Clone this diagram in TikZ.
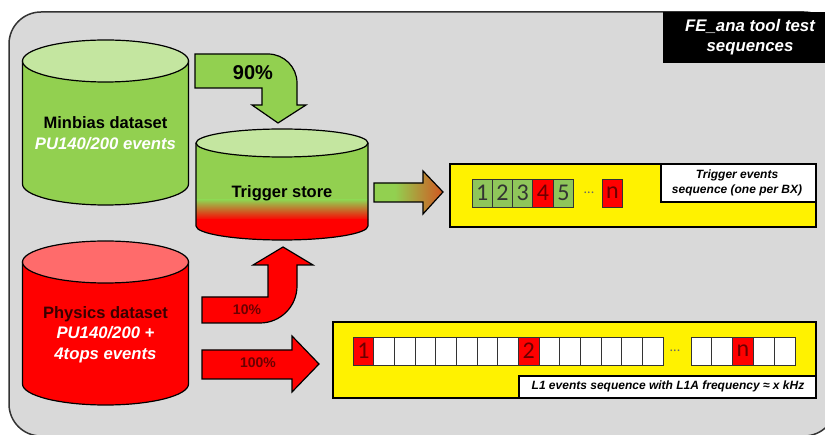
\documentclass[tikz,border=0pt]{standalone}
\usepackage{fontspec}
\setmainfont{Liberation Sans}
\newfontfamily\cellfont{Carlito}
\definecolor{bggray}{HTML}{D9D9D9}
\definecolor{lgreen}{HTML}{92D050}
\definecolor{tgreen}{HTML}{C4E6A0}
\definecolor{cred}{HTML}{FF0000}
\definecolor{tred}{HTML}{FF6B6B}
\definecolor{cellgreen}{HTML}{8FC65A}
\definecolor{darkred}{HTML}{6B0000}
\definecolor{physdark}{HTML}{3A0000}
\pgfdeclarehorizontalshading{grarrow}{100bp}{color(0bp)=(lgreen); color(40bp)=(lgreen); color(100bp)=(cred)}
\tikzset{
  outl/.style={draw=black, line width=1.2},
  lbl/.style={font=\bfseries\fontsize{16.5}{19}\selectfont, anchor=base},
  wlbl/.style={font=\bfseries\itshape\fontsize{16.7}{19}\selectfont, text=white, anchor=base},
  pct/.style={font=\bfseries\fontsize{14}{16}\selectfont, anchor=base, text=darkred},
  smalllbl/.style={font=\bfseries\itshape\fontsize{12}{14}\selectfont, anchor=base},
  titlelbl/.style={font=\bfseries\itshape\fontsize{16.8}{19}\selectfont, text=white, anchor=base},
  cellbox/.style={draw=black!80, line width=0.9, minimum width=20.3, minimum height=28, inner sep=0, font=\cellfont\fontsize{24}{24}\selectfont, text=black!80},
  gcell/.style={cellbox, fill=cellgreen},
  rcell/.style={cellbox, fill=cred, text=darkred},
  wcell/.style={cellbox, fill=white},
  dotlbl/.style={font=\cellfont\fontsize{14}{14}\selectfont, text=black!60},
}
\begin{document}
\begin{tikzpicture}[x=1pt,y=1pt]
\useasboundingbox (0,0) rectangle (825,434);
\clip (0,0) rectangle (825,434);
\fill[white] (0,0) rectangle (825,434);
% frame
\draw[line width=1.5, draw=black!80, fill=bggray, rounded corners=32] (9,422) rectangle (836,-2);
% title
\fill[black] (663,422) rectangle (836,371);
\node[titlelbl] (ti1) at (750,402) {FE\_ana tool test};
\node[titlelbl] (ti2) at (750,382) {sequences};

% Minbias cylinder
\draw[outl, fill=lgreen] (22.5,373) -- (22.5,250) arc[start angle=180, end angle=360, x radius=83, y radius=21] -- (188.5,373) -- cycle;
\draw[outl, fill=tgreen] (105.5,373) ellipse [x radius=83, y radius=21];
\node[lbl] (minb) at (105.5,305) {Minbias dataset};
\node[wlbl] (minbpu) at (105.5,284) {PU140/200 events};

% Physics cylinder
\draw[outl, fill=cred] (22.5,172) -- (22.5,50) arc[start angle=180, end angle=360, x radius=83, y radius=21] -- (188.5,172) -- cycle;
\draw[outl, fill=tred] (105.5,172) ellipse [x radius=83, y radius=21];
\node[lbl, text=physdark] (phys) at (105.5,115) {Physics dataset};
\node[wlbl] (phys2) at (105.5,95) {PU140/200 +};
\node[wlbl] (phys3) at (105.5,74) {4tops events};

% Trigger store cylinder
\begin{scope}
  \clip (196,291) -- (196,208) arc[start angle=180, end angle=360, x radius=86, y radius=14] -- (368,291) -- cycle;
  \fill[lgreen] (190,300) rectangle (374,234);
  \shade[top color=lgreen, bottom color=cred] (190,234) rectangle (374,214);
  \fill[cred] (190,214.5) rectangle (374,180);
\end{scope}
\draw[outl] (196,291) -- (196,208) arc[start angle=180, end angle=360, x radius=86, y radius=14] -- (368,291);
\draw[outl, fill=tgreen] (282,291) ellipse [x radius=86, y radius=14];
\node[lbl] (trig) at (282,236) {Trigger store};

% 90% arrow
\draw[outl, fill=lgreen] (195,380) -- (268,380) arc[start angle=90, end angle=0, radius=29] -- (297,329) -- (306,329) -- (278,311) -- (252,329) -- (262,329) -- (262,346) -- (195,346) -- cycle;
\node[font=\bfseries\fontsize{20}{22}\selectfont, anchor=base] (p90) at (253,354) {90\%};

% 10% arrow
\draw[outl, fill=cred] (202,137) -- (268,137) -- (268,169) -- (253,169) -- (283,187) -- (313,169) -- (297,169) -- (297,148) arc[start angle=0, end angle=-90, radius=37] -- (202,111) -- cycle;
\node[pct] (p10) at (247,119) {10\%};

% 100% arrow
\draw[outl, fill=cred] (202,84) -- (292,84) -- (292,98) -- (319,70) -- (292,42) -- (292,55) -- (202,55) -- cycle;
\node[pct] (p100) at (258,66) {100\%};

% gradient arrow
\shadedraw[outl, shading=grarrow] (374,251) -- (423,251) -- (423,263) -- (443,242) -- (423,220) -- (423,232) -- (374,232) -- cycle;

% top sequence box
\draw[line width=1.3, fill=yellow] (450,270) rectangle (816,207);
\draw[line width=1.3, fill=white] (661,270) rectangle (816,232);
\node[smalllbl] (tl1) at (737,255) {Trigger events};
\node[smalllbl] (tl2) at (737,240) {sequence (one per BX)};
\node[gcell] (t1) at (482.15,241) {1};
\node[gcell] (t2) at (502.45,241) {2};
\node[gcell] (t3) at (522.75,241) {3};
\node[rcell] (t4) at (543.05,241) {4};
\node[gcell] (t5) at (563.35,241) {5};
\node[dotlbl] (d1) at (589,241) {...};
\node[rcell] (tn) at (612.5,241) {n};

% bottom sequence box
\draw[line width=1.3, fill=yellow] (333,112) rectangle (816,36);
\draw[line width=1.3, fill=white] (519,58) rectangle (816,36);
\node[smalllbl] (bl) at (668,44) {L1 events sequence with L1A frequency ≈ x kHz};
\foreach \i in {0,...,14} {
  \node[wcell, minimum width=20.67] (b\i) at ({363.33+\i*20.67},83) {};
}
\node[rcell, minimum width=20.67] (b0r) at (363.33,83) {1};
\node[rcell, minimum width=20.67] (b8r) at ({363.33+8*20.67},83) {2};
\node[dotlbl] (d2) at (675,83) {...};
\foreach \j in {0,...,4} {
  \node[wcell, minimum width=20.8] (c\j) at ({701.4+\j*20.8},83) {};
}
\node[rcell, minimum width=20.8] (cn) at ({701.4+2*20.8},83) {n};
\end{tikzpicture}
\end{document}
